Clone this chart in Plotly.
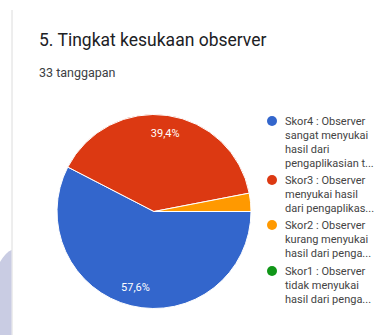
import plotly.graph_objects as go

W, H = 386, 335

labels = ["Skor4 : Observer sangat menyukai hasil dari pengaplikasian t...",
          "Skor3 : Observer menyukai hasil dari pengaplikas...",
          "Skor2 : Observer kurang menyukai hasil dari penga...",
          "Skor1 : Observer tidak menyukai hasil dari penga..."]
legend_lines = [
    ["Skor4 : Observer", "sangat menyukai", "hasil dari", "pengaplikasian t..."],
    ["Skor3 : Observer", "menyukai hasil", "dari pengaplikas..."],
    ["Skor2 : Observer", "kurang menyukai", "hasil dari penga..."],
    ["Skor1 : Observer", "tidak menyukai", "hasil dari penga..."],
]
values = [19, 13, 1, 0]
pct_text = ["57,6%", "39,4%", "", ""]
colors = ["#3366cc", "#dc3912", "#ff9900", "#109618"]

title = "5. Tingkat kesukaan observer"
subtitle = "33 tanggapan"


def px(x):
    return x / W


def py(y):
    return 1 - y / H


cx, cy, r = 154, 211.5, 97
dom = dict(x=[px(cx - r), px(cx + r)], y=[py(cy + r), py(cy - r)])

fig = go.Figure()
fig.add_trace(go.Pie(
    labels=labels, values=values, textinfo="none",
    sort=False, direction="clockwise", rotation=90,
    marker=dict(colors=colors, line=dict(color="white", width=1)),
    domain=dom, showlegend=False, hoverinfo="label+percent",
))
# transparent ring overlay used only to place the percentage labels near the rim
fig.add_trace(go.Pie(
    labels=labels, values=values, text=pct_text, textinfo="text", hole=0.62,
    sort=False, direction="clockwise", rotation=90,
    marker=dict(colors=["rgba(0,0,0,0)"] * 4, line=dict(width=0)),
    textposition="inside", insidetextorientation="horizontal",
    textfont=dict(family="Roboto", size=11, color="white"),
    domain=dom, showlegend=False, hoverinfo="skip",
))

shapes = []
annotations = []
shapes.append(dict(type="line", xref="paper", yref="paper", x0=px(12), x1=px(12),
                   y0=py(10), y1=py(335), line=dict(color="#dcdcdc", width=1)))
shapes.append(dict(type="path", xref="paper", yref="paper",
                   path=f"M {px(0)},{py(262)} Q {px(6)},{py(252)} {px(11.5)},{py(250)} L {px(11.5)},{py(335)} L {px(0)},{py(335)} Z",
                   fillcolor="#c9cce3", line=dict(width=0)))

annotations.append(dict(text=title, x=px(37), y=py(40), xref="paper", yref="paper",
                        xanchor="left", yanchor="middle", showarrow=False,
                        font=dict(family="Roboto", size=17.5, color="#202124")))
annotations.append(dict(text=subtitle, x=px(37), y=py(72), xref="paper", yref="paper",
                        xanchor="left", yanchor="middle", showarrow=False,
                        font=dict(family="Roboto", size=12.5, color="#3c4043")))

item_y = [121, 180, 225, 271]
line_h = 14
for i, lines in enumerate(legend_lines):
    y0 = item_y[i]
    shapes.append(dict(type="circle", xref="paper", yref="paper",
                       x0=px(272 - 5), x1=px(272 + 5), y0=py(y0 + 5), y1=py(y0 - 5),
                       fillcolor=colors[i], line=dict(width=0)))
    for j, t in enumerate(lines):
        annotations.append(dict(text=t, x=px(283), y=py(y0 + j * line_h), xref="paper", yref="paper",
                                xanchor="left", yanchor="middle", showarrow=False,
                                font=dict(family="Roboto", size=11, color="#444444")))

fig.update_layout(width=W, height=H, margin=dict(l=0, r=0, t=0, b=0),
                  paper_bgcolor="white", plot_bgcolor="white",
                  shapes=shapes, annotations=annotations, showlegend=False)
fig.write_html("out.html")
